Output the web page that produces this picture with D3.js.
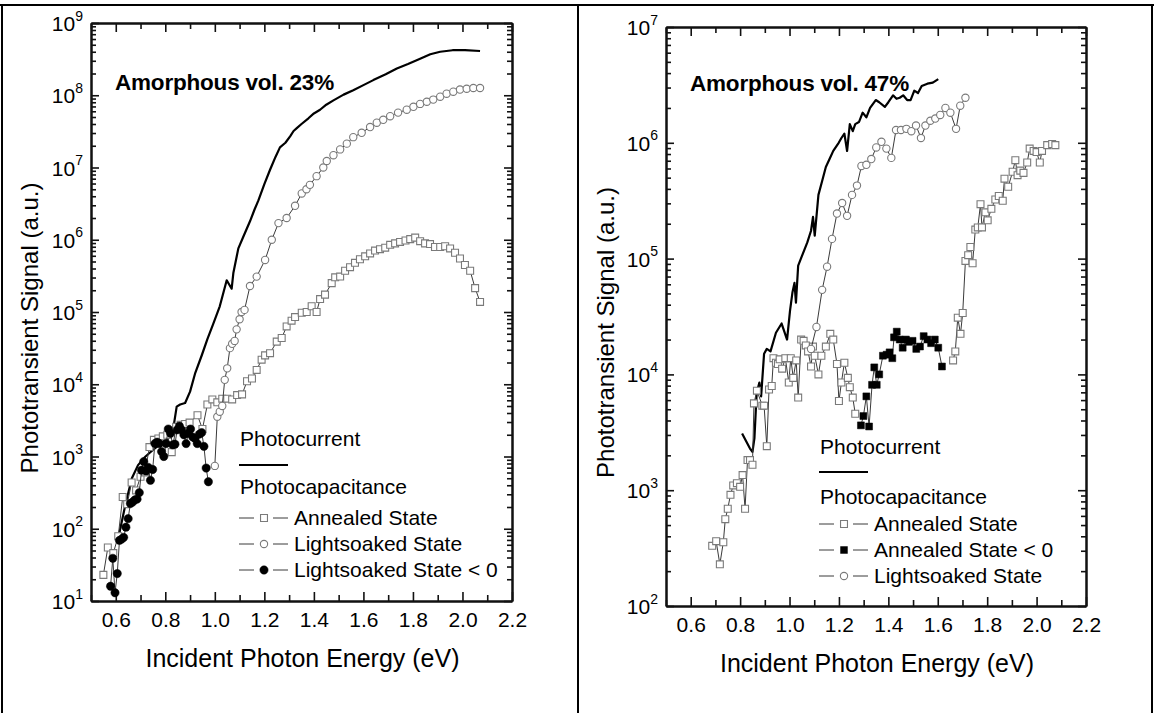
<!DOCTYPE html>
<html><head><meta charset="utf-8">
<script src="https://cdn.jsdelivr.net/npm/d3@7"></script>
<style>
body{margin:0;background:#fff;}
svg{display:block;font-family:"Liberation Sans",Arial,Helvetica,sans-serif;}
</style></head>
<body><svg id="c" width="1154" height="713"></svg>
<script>
// ---------------- DATA ----------------
// Left panel: Amorphous vol. 23%
const L_pcE = [0.615,0.64,0.665,0.69,0.72,0.75,0.79,0.82,0.835,0.846,0.86,0.88,0.90,0.92,0.947,0.97,0.994,1.02,1.048,1.068,1.075,1.095,1.115,1.142,1.16,1.176,1.20,1.223,1.245,1.263,1.285,1.304,1.318,1.331,1.35,1.378,1.40,1.425,1.45,1.479,1.52,1.559,1.60,1.64,1.69,1.735,1.78,1.829,1.87,1.91,1.96,2.01,2.071];
const L_pcV = [89,224,500,760,1000,1230,1580,1900,2800,4900,5250,5500,7900,1.4e4,2.5e4,4.2e4,6.9e4,1.2e5,2.75e5,2.1e5,3.5e5,7.6e5,1.1e6,1.8e6,2.6e6,3.5e6,5.9e6,9.3e6,1.4e7,1.9e7,2.2e7,2.7e7,3.2e7,3.5e7,4.0e7,4.8e7,5.6e7,6.3e7,7.4e7,8.5e7,1.02e8,1.17e8,1.38e8,1.62e8,1.95e8,2.34e8,2.7e8,3.2e8,3.7e8,4.0e8,4.2e8,4.2e8,4.1e8];

const L_annE = [0.550,0.568,0.590,0.610,0.628,0.646,0.664,0.682,0.700,0.718,0.736,0.754,0.772,0.790,0.808,0.826,0.844,0.862,0.880,0.898,0.930,0.950,0.970,0.990,1.010,1.030,1.050,1.070,1.090,1.110,1.130,1.150,1.169,1.189,1.203,1.223,1.250,1.270,1.290,1.310,1.324,1.351,1.371,1.391,1.411,1.425,1.445,1.472,1.486,1.506,1.526,1.546,1.566,1.586,1.607,1.627,1.647,1.667,1.688,1.708,1.728,1.748,1.770,1.789,1.809,1.829,1.849,1.869,1.889,1.910,1.930,1.950,1.970,1.990,2.010,2.031,2.051,2.071];
const L_annV = [23,55,46,79,275,219,437,339,525,603,1350,1700,1780,1900,2000,1150,2570,2750,2820,2950,3720,2400,5250,6170,5620,6310,6310,6170,7080,7240,1.1e4,1.2e4,1.58e4,2.19e4,2.51e4,2.69e4,3.89e4,4.37e4,6.31e4,7.59e4,8.51e4,9.77e4,1.0e5,1.2e5,1.0e5,1.51e5,1.74e5,2.51e5,3.02e5,3.09e5,3.72e5,4.17e5,4.79e5,5.37e5,5.89e5,6.46e5,7.08e5,7.41e5,7.76e5,8.51e5,8.91e5,9.33e5,9.77e5,1.02e6,1.07e6,9.55e5,8.91e5,8.71e5,7.94e5,7.94e5,8.13e5,7.59e5,6.61e5,5.5e5,4.47e5,3.72e5,2.14e5,1.38e5];

const L_lsE = [1.000,1.010,1.020,1.030,1.040,1.050,1.061,1.070,1.080,1.088,1.100,1.108,1.120,1.142,1.169,1.203,1.230,1.257,1.290,1.324,1.351,1.370,1.384,1.411,1.438,1.452,1.479,1.506,1.533,1.559,1.593,1.627,1.654,1.680,1.708,1.740,1.775,1.802,1.829,1.856,1.882,1.910,1.936,1.963,1.990,2.017,2.044,2.071];
const L_lsV = [741,3550,4170,5010,1.15e4,1.66e4,3.16e4,3.63e4,3.98e4,5.75e4,7.94e4,1.0e5,1.07e5,2.29e5,3.09e5,5.25e5,1.0e6,1.7e6,2.0e6,2.95e6,4.37e6,5.0e6,5.75e6,7.59e6,1.0e7,1.23e7,1.48e7,1.78e7,2.14e7,2.63e7,3.02e7,3.63e7,4.17e7,4.57e7,5.13e7,5.75e7,6.31e7,6.92e7,7.59e7,8.13e7,8.71e7,9.55e7,1.05e8,1.12e8,1.2e8,1.23e8,1.26e8,1.26e8];

const L_lsNegE = [0.579,0.588,0.597,0.606,0.615,0.624,0.632,0.641,0.650,0.659,0.668,0.677,0.686,0.695,0.704,0.713,0.722,0.731,0.740,0.749,0.758,0.767,0.776,0.785,0.794,0.803,0.812,0.821,0.830,0.839,0.848,0.857,0.866,0.875,0.884,0.893,0.902,0.911,0.920,0.929,0.938,0.947,0.956,0.965,0.974];
const L_lsNegV = [16,39,13,24,69,72,76,105,138,224,234,251,257,316,646,851,631,708,468,661,1510,1580,1510,1170,1000,1510,2400,2090,1450,1480,2340,2630,2340,2000,1510,2090,2400,1860,1780,1510,2040,2140,1380,692,447];

// Right panel: Amorphous vol. 47%
const R_pcE = [0.808,0.825,0.840,0.850,0.858,0.867,0.878,0.885,0.897,0.908,0.923,0.945,0.968,0.99,1.002,1.012,1.020,1.026,1.035,1.05,1.072,1.087,1.095,1.102,1.117,1.132,1.147,1.162,1.177,1.199,1.210,1.222,1.233,1.244,1.256,1.266,1.281,1.296,1.311,1.326,1.349,1.363,1.386,1.40,1.419,1.433,1.446,1.46,1.476,1.49,1.505,1.52,1.535,1.558,1.58,1.602];
const R_pcV = [3090,2630,2290,2140,2820,6920,8510,6460,1.51e4,1.66e4,1.58e4,2.29e4,2.75e4,2.0e4,3.55e4,5.13e4,6.17e4,4.17e4,8.71e4,1.05e5,1.38e5,1.74e5,2.29e5,1.58e5,3.55e5,4.68e5,6.17e5,7.24e5,8.51e5,1.0e6,1.1e6,1.2e6,8.5e5,1.45e6,1.26e6,1.45e6,1.51e6,1.82e6,1.66e6,2.0e6,2.34e6,2.24e6,2.04e6,2.24e6,2.57e6,2.4e6,2.45e6,2.57e6,2.34e6,2.34e6,2.82e6,2.69e6,3.09e6,3.24e6,3.31e6,3.55e6];

const R_annE = [0.687,0.703,0.718,0.732,0.740,0.750,0.761,0.772,0.787,0.800,0.810,0.820,0.830,0.840,0.850,0.856,0.868,0.890,0.897,0.908,0.917,0.928,0.935,0.945,0.953,0.960,0.970,0.983,0.997,1.005,1.015,1.027,1.035,1.047,1.057,1.066,1.075,1.087,1.095,1.102,1.117,1.129,1.147,1.165,1.177,1.192,1.200,1.210,1.222,1.236,1.244,1.256,1.266,
  null,
  1.662,1.671,1.681,1.692,1.701,1.712,1.723,1.732,1.741,1.752,1.762,1.773,1.779,1.793,1.802,1.817,1.833,1.847,1.863,1.870,1.885,1.903,1.914,1.923,1.934,1.947,1.962,1.972,1.988,2.000,2.013,2.022,2.043,2.063,2.076];
const R_annV = [331,363,229,355,562,692,912,1100,1150,1070,1350,692,1820,1820,1660,5620,7240,5370,5370,2400,7410,7940,1.38e4,1.26e4,1.23e4,1.35e4,1.12e4,1.38e4,8510,1.38e4,9330,1.32e4,6310,2.0e4,1.95e4,1.78e4,1.58e4,1.17e4,1.74e4,1.45e4,1.0e4,1.45e4,1.74e4,2.24e4,2.0e4,1.23e4,5890,8510,1.26e4,9330,7760,6310,4570,
  null,
  1.32e4,1.58e4,3.09e4,2.24e4,3.39e4,9.55e4,1.07e5,1.26e5,9.12e4,1.78e5,1.86e5,2.95e5,1.86e5,2.51e5,2.14e5,2.69e5,3.24e5,3.47e5,3.16e5,4.9e5,4.17e5,5.62e5,7.08e5,5.25e5,5.75e5,5.5e5,6.76e5,8.91e5,8.51e5,8.32e5,6.76e5,8.51e5,9.55e5,9.77e5,9.55e5];

const R_annNegE = [1.289,1.299,1.311,1.322,1.334,1.343,1.353,1.363,1.378,1.393,1.405,1.416,1.423,1.434,1.446,1.458,1.471,1.483,1.498,1.513,1.528,1.543,1.558,1.573,1.588,1.602,1.617];
const R_annNegV = [3630,4370,6460,3550,8130,1.15e4,8130,1.0e4,1.45e4,1.48e4,1.55e4,1.38e4,2.09e4,2.34e4,2.0e4,1.7e4,2.0e4,1.91e4,1.95e4,1.66e4,1.74e4,2.14e4,2.0e4,1.86e4,2.0e4,1.7e4,1.17e4];

const R_lsE = [1.087,1.109,1.132,1.152,1.172,1.192,1.213,1.233,1.253,1.273,1.291,1.311,1.331,1.351,1.372,1.392,1.412,1.431,1.451,1.473,1.493,1.512,1.532,1.550,1.570,1.590,1.610,1.631,1.651,1.674,1.691,1.712];
const R_lsV = [1.66e4,2.57e4,5.37e4,8.51e4,1.48e5,2.45e5,3.02e5,2.34e5,3.55e5,4.27e5,6.31e5,6.46e5,7.24e5,9.12e5,1.02e6,8.91e5,7.41e5,1.29e6,1.29e6,1.32e6,1.26e6,1.41e6,1.1e6,1.41e6,1.55e6,1.62e6,1.74e6,2.0e6,1.82e6,1.32e6,2.09e6,2.45e6];

const xMajor = [0.6,0.8,1.0,1.2,1.4,1.6,1.8,2.0,2.2];
const xMinor = [0.5,0.7,0.9,1.1,1.3,1.5,1.7,1.9,2.1];
const xLabels = ["0.6","0.8","1.0","1.2","1.4","1.6","1.8","2.0","2.2"];
const L_decades = [1,2,3,4,5,6,7,8,9];
const R_decades = [2,3,4,5,6,7];
const yTitle = "Phototransient Signal (a.u.)";
const xTitle = "Incident Photon Energy (eV)";
const L_note = "Amorphous vol. 23%";
const R_note = "Amorphous vol. 47%";
const L_legend = ["Annealed State","Lightsoaked State","Lightsoaked State < 0"];
const R_legend = ["Annealed State","Annealed State < 0","Lightsoaked State"];

// ---------------- DRAW ----------------
const svg = d3.select("#c");
const zip = (E,V)=>E.map((e,i)=>({e, v:V[i]}));

// table borders
const B = svg.append("g").attr("stroke","#000").attr("stroke-width",2);
B.append("line").attr("x1",0).attr("x2",1154).attr("y1",5).attr("y2",5);
B.append("line").attr("x1",2).attr("x2",2).attr("y1",5).attr("y2",713);
B.append("line").attr("x1",578).attr("x2",578).attr("y1",5).attr("y2",713);
B.append("line").attr("x1",1152).attr("x2",1152).attr("y1",5).attr("y2",713);

const GRAY = "#7a7a7a", LINE = "#3a3a3a";

function panel(cfg){
  const g = svg.append("g");
  const x = d3.scaleLinear().domain([0.5,2.2]).range([cfg.x0,cfg.x1]);
  const y = d3.scaleLog().domain(cfg.yDom).range([cfg.y1,cfg.y0]);
  const minors = [];
  for(let d=cfg.decades[0]; d<cfg.decades[cfg.decades.length-1]; d++)
    for(let m=2;m<=9;m++) minors.push(m*Math.pow(10,d));
  const majors = cfg.decades.map(d=>Math.pow(10,d));

  const axStyle = s=>{ s.select(".domain").attr("stroke-width",2).attr("stroke","#111");
    s.selectAll(".tick line").attr("stroke-width",1.6).attr("stroke","#111"); };

  // bottom
  g.append("g").attr("transform",`translate(0,${cfg.y1})`)
    .call(d3.axisBottom(x).tickValues(xMajor).tickSizeInner(-9).tickSizeOuter(0).tickPadding(11)
      .tickFormat((d,i)=>xLabels[i])).call(axStyle)
    .selectAll("text").attr("font-size",21).attr("fill","#000").attr("font-family","Liberation Sans, Arial, sans-serif");
  g.append("g").attr("transform",`translate(0,${cfg.y1})`)
    .call(d3.axisBottom(x).tickValues(xMinor).tickSizeInner(-6).tickSizeOuter(0).tickFormat("")).call(axStyle);
  // top
  g.append("g").attr("transform",`translate(0,${cfg.y0})`)
    .call(d3.axisTop(x).tickValues(xMajor).tickSizeInner(-9).tickSizeOuter(0).tickFormat("")).call(axStyle);
  g.append("g").attr("transform",`translate(0,${cfg.y0})`)
    .call(d3.axisTop(x).tickValues(xMinor).tickSizeInner(-6).tickSizeOuter(0).tickFormat("")).call(axStyle);
  // left
  const la = g.append("g").attr("transform",`translate(${cfg.x0},0)`)
    .call(d3.axisLeft(y).tickValues(majors).tickSizeInner(-8).tickSizeOuter(0).tickPadding(8).tickFormat("")).call(axStyle);
  la.selectAll(".tick text").each(function(d){
    const t = d3.select(this).attr("font-size",21).attr("fill","#000").attr("dy","0.36em")
      .attr("font-family","Liberation Sans, Arial, sans-serif");
    t.text(null);
    t.append("tspan").text("10");
    t.append("tspan").attr("font-size",14).attr("dy","-0.75em").text(String(Math.round(Math.log10(d))));
  });
  g.append("g").attr("transform",`translate(${cfg.x0},0)`)
    .call(d3.axisLeft(y).tickValues(minors).tickSizeInner(-5).tickSizeOuter(0).tickFormat("")).call(axStyle);
  // right
  g.append("g").attr("transform",`translate(${cfg.x1},0)`)
    .call(d3.axisRight(y).tickValues(majors).tickSizeInner(-8).tickSizeOuter(0).tickFormat("")).call(axStyle);
  g.append("g").attr("transform",`translate(${cfg.x1},0)`)
    .call(d3.axisRight(y).tickValues(minors).tickSizeInner(-5).tickSizeOuter(0).tickFormat("")).call(axStyle);

  // titles
  g.append("text").attr("x",(cfg.x0+cfg.x1)/2+1).attr("y",cfg.y1+66).attr("text-anchor","middle")
    .attr("font-size",25).text(xTitle);
  g.append("text").attr("transform",`translate(${cfg.ylx},${(cfg.y0+cfg.y1)/2+16}) rotate(-90)`)
    .attr("text-anchor","middle").attr("font-size",24).text(yTitle);
  g.append("text").attr("x",cfg.noteX).attr("y",cfg.noteY).attr("font-size",22.5).attr("font-weight","bold")
    .attr("letter-spacing","-0.2").text(cfg.note);

  const line = d3.line().defined(d=>d.e!==null && d.v!==null).x(d=>x(d.e)).y(d=>y(d.v));
  const sq = d3.symbol().type(d3.symbolSquare).size(48);
  const ci = d3.symbol().type(d3.symbolCircle).size(42);
  const fci = d3.symbol().type(d3.symbolCircle).size(54);
  const fsq = d3.symbol().type(d3.symbolSquare).size(48);

  cfg.series.forEach(s=>{
    const data = zip(s.E,s.V);
    if(s.kind==="pc"){
      g.append("path").datum(data).attr("d",line).attr("fill","none").attr("stroke","#000").attr("stroke-width",2.2).attr("stroke-linejoin","round");
      return;
    }
    g.append("path").datum(data).attr("d",line).attr("fill","none").attr("stroke",LINE).attr("stroke-width",1);
    const pts = data.filter(d=>d.e!==null);
    const sym = s.kind==="sq"?sq: s.kind==="ci"?ci: s.kind==="fci"?fci: fsq;
    const filled = s.kind==="fci"||s.kind==="fsq";
    g.append("g").selectAll("path").data(pts).join("path")
      .attr("transform",d=>`translate(${x(d.e)},${y(d.v)})`).attr("d",sym)
      .attr("fill",filled?"#000":"#fff").attr("stroke",filled?"#000":GRAY).attr("stroke-width",filled?0.5:1.1);
  });

  // legend
  const lg = g.append("g").attr("font-size",21);
  const L = cfg.leg;
  lg.append("text").attr("x",L.x).attr("y",L.pc).text("Photocurrent");
  lg.append("line").attr("x1",L.x-1).attr("x2",L.x+48).attr("y1",L.line).attr("y2",L.line).attr("stroke","#000").attr("stroke-width",2);
  lg.append("text").attr("x",L.x).attr("y",L.cap).text("Photocapacitance");
  cfg.legItems.forEach((it,i)=>{
    const yy = L.row0+i*26;
    lg.append("line").attr("x1",L.x-1).attr("x2",L.x+14).attr("y1",yy-7).attr("y2",yy-7).attr("stroke",LINE).attr("stroke-width",1);
    lg.append("line").attr("x1",L.x+33).attr("x2",L.x+48).attr("y1",yy-7).attr("y2",yy-7).attr("stroke",LINE).attr("stroke-width",1);
    const k = it.kind;
    const sym = k==="sq"?sq: k==="ci"?ci: k==="fci"?fci: fsq;
    const filled = k==="fci"||k==="fsq";
    lg.append("path").attr("transform",`translate(${L.x+24},${yy-7})`).attr("d",sym)
      .attr("fill",filled?"#000":"#fff").attr("stroke",filled?"#000":GRAY).attr("stroke-width",filled?0.5:1.1);
    lg.append("text").attr("x",L.x+54).attr("y",yy).text(it.label);
  });
}

panel({x0:91,x1:512,y0:23,y1:601,yDom:[1e1,1e9],decades:L_decades,ylx:38,
  note:L_note,noteX:115,noteY:90,
  leg:{x:240,pc:446,line:465,cap:494,row0:525},
  series:[
    {kind:"pc",E:L_pcE,V:L_pcV},
    {kind:"sq",E:L_annE,V:L_annV},
    {kind:"ci",E:L_lsE,V:L_lsV},
    {kind:"fci",E:L_lsNegE,V:L_lsNegV}
  ],
  legItems:[{kind:"sq",label:L_legend[0]},{kind:"ci",label:L_legend[1]},{kind:"fci",label:L_legend[2]}]
});
panel({x0:666,x1:1086,y0:27,y1:606,yDom:[1e2,1e7],decades:R_decades,ylx:614,
  note:R_note,noteX:690,noteY:91,
  leg:{x:820,pc:454,line:472,cap:504,row0:531},
  series:[
    {kind:"pc",E:R_pcE,V:R_pcV},
    {kind:"sq",E:R_annE,V:R_annV},
    {kind:"fsq",E:R_annNegE,V:R_annNegV},
    {kind:"ci",E:R_lsE,V:R_lsV}
  ],
  legItems:[{kind:"sq",label:R_legend[0]},{kind:"fsq",label:R_legend[1]},{kind:"ci",label:R_legend[2]}]
});
</script></body></html>
